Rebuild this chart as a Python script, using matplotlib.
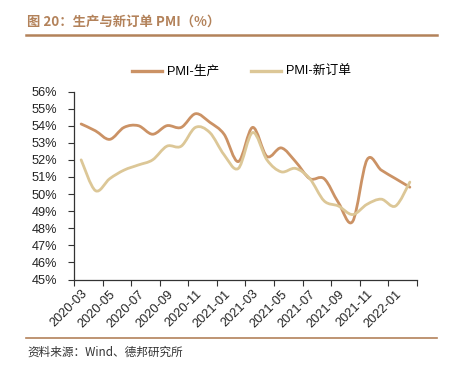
import matplotlib
matplotlib.use('Agg')
import matplotlib.pyplot as plt
from matplotlib.path import Path
from matplotlib.patches import PathPatch
from matplotlib.lines import Line2D
from matplotlib.ticker import FuncFormatter

months = ['2020-03', '2020-04', '2020-05', '2020-06', '2020-07', '2020-08',
          '2020-09', '2020-10', '2020-11', '2020-12', '2021-01', '2021-02',
          '2021-03', '2021-04', '2021-05', '2021-06', '2021-07', '2021-08',
          '2021-09', '2021-10', '2021-11', '2021-12', '2022-01', '2022-02']
production = [54.1, 53.7, 53.2, 53.9, 54.0, 53.5, 54.0, 53.9, 54.7, 54.2, 53.5, 51.9,
              53.9, 52.2, 52.7, 51.9, 50.9, 50.9, 49.5, 48.4, 52.0, 51.4, 50.9, 50.4]
new_orders = [52.0, 50.2, 50.9, 51.4, 51.7, 52.0, 52.8, 52.8, 53.9, 53.6, 52.3, 51.5,
              53.6, 52.0, 51.3, 51.5, 50.9, 49.6, 49.3, 48.8, 49.4, 49.7, 49.3, 50.7]
series_names = ['PMI-生产', 'PMI-新订单']
series_colors = ['#CB9265', '#DCC797']

FONT = ['Liberation Sans', 'Noto Sans CJK SC']
CJK = ['Noto Sans CJK SC', 'DejaVu Sans']
plt.rcParams['font.family'] = FONT


def smooth_path(xs, ys):
    pts = list(zip(xs, ys))
    n = len(pts)
    verts = [pts[0]]
    codes = [Path.MOVETO]
    for i in range(n - 1):
        p0 = pts[i - 1] if i > 0 else pts[i]
        p1 = pts[i]
        p2 = pts[i + 1]
        p3 = pts[i + 2] if i + 2 < n else pts[i + 1]
        c1 = (p1[0] + (p2[0] - p0[0]) / 6.0, p1[1] + (p2[1] - p0[1]) / 6.0)
        c2 = (p2[0] - (p3[0] - p1[0]) / 6.0, p2[1] - (p3[1] - p1[1]) / 6.0)
        verts += [c1, c2, p2]
        codes += [Path.CURVE4] * 3
    return Path(verts, codes)


fig = plt.figure(figsize=(4.56, 3.66), dpi=100)
ax = fig.add_axes([74 / 456, 1 - 279.5 / 366, (417 - 74) / 456, (279.5 - 91.5) / 366])

x = list(range(len(months)))
for vals, col in zip([production, new_orders], series_colors):
    ax.add_patch(PathPatch(smooth_path(x, vals), facecolor='none', edgecolor=col,
                           lw=2.0, capstyle='round', joinstyle='round'))

ax.set_xlim(-0.5, len(months) - 0.5)
ax.set_ylim(45, 56)
ax.set_yticks(range(45, 57))
ax.yaxis.set_major_formatter(FuncFormatter(lambda v, p: f'{int(v)}%'))

ax.set_xticks([i - 0.5 for i in range(0, len(months) + 1, 2)])
ax.set_xticklabels([])
ax.set_xticks(x[::2], minor=True)
ax.set_xticklabels(months[::2], minor=True, rotation=45, ha='right', va='top',
                   rotation_mode='anchor', fontsize=9.2, color='#222222')
ax.tick_params(axis='x', which='minor', length=0, pad=6)
ax.tick_params(axis='x', which='major', length=4, width=0.8, color='#333333', direction='out')
ax.tick_params(axis='y', length=4, width=0.8, color='#333333', direction='out',
               labelsize=9.2, labelcolor='#222222', pad=8)

for s in ['top', 'right']:
    ax.spines[s].set_visible(False)
for s in ['left', 'bottom']:
    ax.spines[s].set_color('#333333')
    ax.spines[s].set_linewidth(0.9)

handles = [Line2D([], [], color=c, lw=2.4) for c in series_colors]
leg = fig.legend(handles, series_names, loc='center', bbox_to_anchor=(241.5 / 456, 1 - 72 / 366),
                 ncol=2, frameon=False, fontsize=9.2, handlelength=2.35, handletextpad=0.35,
                 columnspacing=2.5)

title_color = '#B3825A'
fig.text(27 / 456, 1 - 22 / 366, '图 20：生产与新订单 PMI（%）', fontsize=9.6, fontweight='bold',
         color=title_color, family=CJK, va='center', ha='left')
fig.add_artist(Line2D([26 / 456, 437 / 456], [1 - 35 / 366, 1 - 35 / 366], color=title_color, lw=1.8))
fig.add_artist(Line2D([26 / 456, 437 / 456], [1 - 337.5 / 366, 1 - 337.5 / 366], color=title_color, lw=1.2))
fig.text(27 / 456, 1 - 352 / 366, '资料来源：Wind、德邦研究所', fontsize=8.4,
         color='#333333', family=CJK, va='center', ha='left')

fig.savefig('out.png', dpi=100)
